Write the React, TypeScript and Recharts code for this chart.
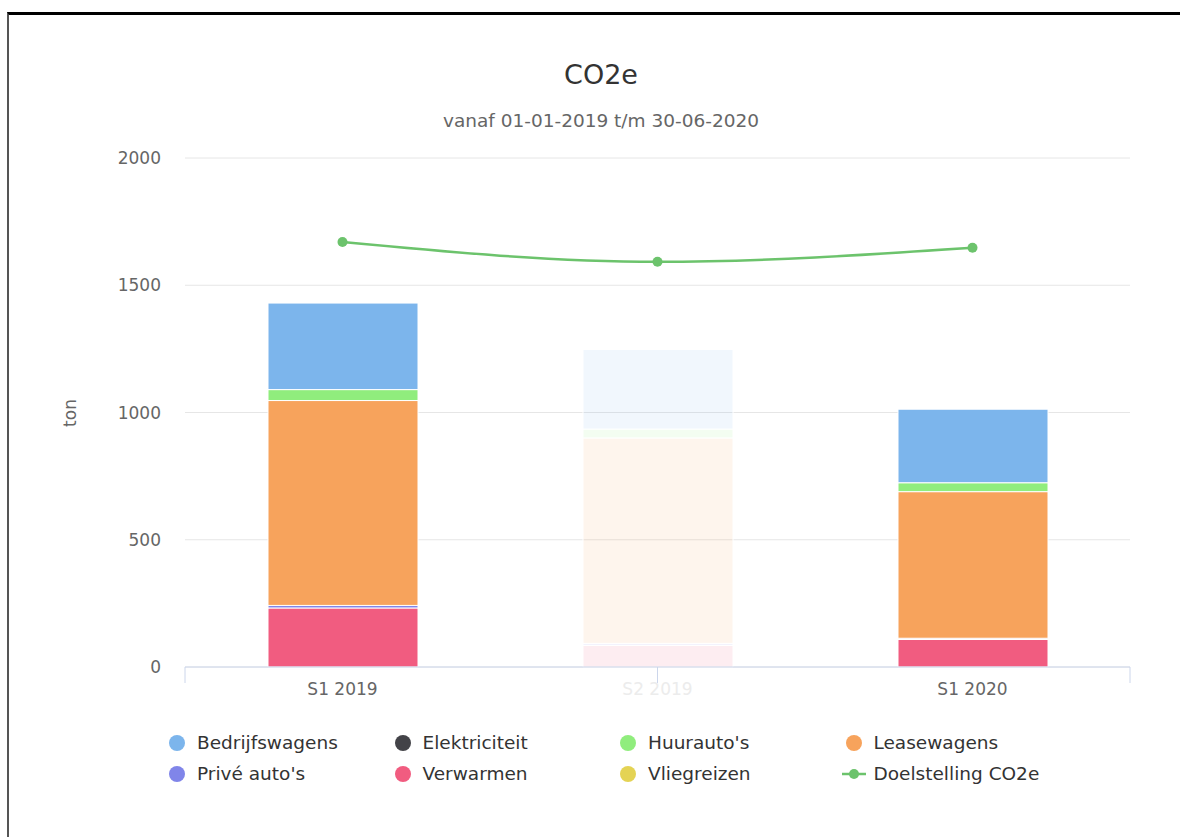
import React from "react";
import {
  ComposedChart,
  Bar,
  Line,
  XAxis,
  YAxis,
  CartesianGrid,
  Cell,
} from "recharts";

const categories = ["S1 2019", "S2 2019", "S1 2020"];
const fadedCategories = ["S2 2019"];

const bedrijfswagens = [340, 313, 289];
const elektriciteit = [0, 0, 0];
const huurautos = [43, 35, 35];
const leasewagens = [805, 807, 576];
const priveAutos = [10, 8, 5];
const verwarmen = [232, 85, 108];
const vliegreizen = [0, 0, 0];
const doelstelling = [1670, 1592, 1647];

const yTicks = [0, 500, 1000, 1500, 2000];
const boundaryTicks = [0, 1, 2, 3];

const seriesNames = [
  "Bedrijfswagens",
  "Elektriciteit",
  "Huurauto's",
  "Leasewagens",
  "Privé auto's",
  "Verwarmen",
  "Vliegreizen",
];
const seriesKeys = [
  "bedrijfswagens",
  "elektriciteit",
  "huurautos",
  "leasewagens",
  "priveAutos",
  "verwarmen",
  "vliegreizen",
];
const seriesColors = [
  "#7cb5ec",
  "#434348",
  "#90ed7d",
  "#f7a35c",
  "#8085e9",
  "#f15c80",
  "#e4d354",
];
const lineName = "Doelstelling CO2e";
const lineColor = "#6cc36c";

const seriesValues = [
  bedrijfswagens,
  elektriciteit,
  huurautos,
  leasewagens,
  priveAutos,
  verwarmen,
  vliegreizen,
];

const data = categories.map((c, i) => {
  const row: any = { category: c, doelstelling: doelstelling[i] };
  seriesKeys.forEach((k, j) => {
    row[k] = seriesValues[j][i];
  });
  return row;
});

const FONT = "'DejaVu Sans', sans-serif";

const CategoryTick = (props: any) => {
  const { x, y, payload } = props;
  const faded = fadedCategories.includes(payload.value);
  return (
    <text
      x={x}
      y={y}
      dy="0.71em"
      textAnchor="middle"
      fill={faded ? "#ececec" : "#666666"}
      fontSize={17}
      fontFamily={FONT}
    >
      {payload.value}
    </text>
  );
};

const EmptyTick = () => <g />;

export default function App() {
  const stackOrder = [...seriesKeys.keys()].reverse();
  const legendCols = 4;
  return (
    <div
      style={{
        position: "absolute",
        left: 0,
        top: 0,
        width: 1180,
        height: 837,
        background: "#fff",
        fontFamily: FONT,
        overflow: "hidden",
      }}
    >
      <div
        style={{
          position: "absolute",
          left: 7,
          top: 12,
          width: 1173,
          height: 825,
          borderTop: "3px solid #000",
          borderLeft: "2px solid #555",
          boxSizing: "border-box",
        }}
      />
      <div
        style={{
          position: "absolute",
          left: 0,
          width: 1202,
          top: 60,
          textAlign: "center",
          fontSize: 27,
          lineHeight: "30px",
          color: "#333333",
        }}
      >
        CO2e
      </div>
      <div
        style={{
          position: "absolute",
          left: 0,
          width: 1202,
          top: 110,
          textAlign: "center",
          fontSize: 18.5,
          lineHeight: "22px",
          color: "#666666",
        }}
      >
        vanaf 01-01-2019 t/m 30-06-2020
      </div>
      <div
        style={{
          position: "absolute",
          left: 70,
          top: 413,
          transform: "translate(-50%, -50%) rotate(-90deg)",
          fontSize: 17,
          color: "#666666",
          whiteSpace: "nowrap",
        }}
      >
        ton
      </div>
      <div style={{ position: "absolute", left: 0, top: 0 }}>
        <ComposedChart
          width={1180}
          height={837}
          data={data}
          margin={{ top: 158, right: 50, bottom: 139, left: 105 }}
        >
          <CartesianGrid
            horizontal={true}
            vertical={false}
            stroke="#e6e6e6"
          />
          <XAxis
            xAxisId="bounds"
            type="number"
            domain={[0, 3]}
            ticks={boundaryTicks}
            allowDataOverflow={true}
            height={1}
            tick={EmptyTick}
            tickSize={16}
            tickLine={{ stroke: "#ccd6eb" }}
            axisLine={{ stroke: "#ccd6eb" }}
          />
          <XAxis
            dataKey="category"
            xAxisId="cat"
            type="category"
            height={30}
            axisLine={false}
            tickLine={false}
            tickSize={0}
            tickMargin={15}
            tick={<CategoryTick />}
            interval={0}
          />
          <YAxis
            domain={[0, 2000]}
            ticks={yTicks}
            width={80}
            axisLine={false}
            tickLine={false}
            tickSize={0}
            tickMargin={24}
            tick={{ fill: "#666666", fontSize: 17, fontFamily: FONT }}
          />
          {stackOrder.map((j) => (
            <Bar
              key={seriesKeys[j]}
              xAxisId="cat"
              dataKey={seriesKeys[j]}
              name={seriesNames[j]}
              stackId="a"
              fill={seriesColors[j]}
              stroke="#ffffff"
              strokeWidth={1}
              barSize={150}
              isAnimationActive={false}
            >
              {categories.map((c) => (
                <Cell
                  key={c}
                  fill={seriesColors[j]}
                  fillOpacity={fadedCategories.includes(c) ? 0.11 : 1}
                />
              ))}
            </Bar>
          ))}
          <Line
            xAxisId="cat"
            type="monotone"
            dataKey="doelstelling"
            name={lineName}
            stroke={lineColor}
            strokeWidth={2.5}
            dot={{ r: 5, fill: lineColor, stroke: lineColor, strokeWidth: 0 }}
            isAnimationActive={false}
          />
        </ComposedChart>
      </div>
      {seriesNames.concat([lineName]).map((name, i) => {
        const col = i % legendCols;
        const row = Math.floor(i / legendCols);
        const cx = 177 + col * 225.5;
        const cy = 743 + row * 30.5;
        const isLine = i === seriesNames.length;
        const color = isLine ? lineColor : seriesColors[i];
        return (
          <div
            key={name}
            style={{
              position: "absolute",
              left: cx - 12,
              top: cy - 11,
              height: 22,
              display: "flex",
              alignItems: "center",
              whiteSpace: "nowrap",
            }}
          >
            {isLine ? (
              <svg width={24} height={22} style={{ marginRight: 8 }}>
                <line
                  x1={0}
                  y1={11}
                  x2={24}
                  y2={11}
                  stroke={color}
                  strokeWidth={2.5}
                />
                <circle cx={12} cy={11} r={5} fill={color} />
              </svg>
            ) : (
              <svg width={24} height={22} style={{ marginRight: 8 }}>
                <circle cx={12} cy={11} r={8} fill={color} />
              </svg>
            )}
            <span style={{ fontSize: 18.5, color: "#333333", lineHeight: "22px" }}>
              {name}
            </span>
          </div>
        );
      })}
    </div>
  );
}
